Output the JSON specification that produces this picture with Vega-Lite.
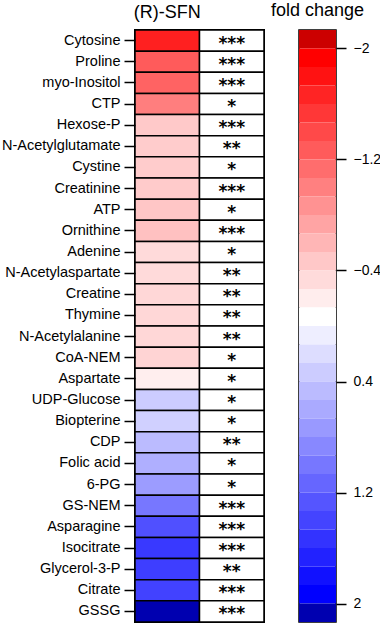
{
  "$schema": "https://vega.github.io/schema/vega-lite/v6.json",
  "padding": {"left": 0, "top": 0, "right": 0, "bottom": 0},
  "background": "white",
  "config": {
    "font": "Liberation Sans",
    "view": {"stroke": null},
    "axis": {"labelColor": "black", "tickColor": "black", "labelFont": "Liberation Sans"}
  },
  "datasets": {
    "metabolites": [
      {"metabolite": "Cytosine", "value": -1.75, "stars": "***"},
      {"metabolite": "Proline", "value": -1.29, "stars": "***"},
      {"metabolite": "myo-Inositol", "value": -1.22, "stars": "***"},
      {"metabolite": "CTP", "value": -1.01, "stars": "*"},
      {"metabolite": "Hexose-P", "value": -0.42, "stars": "***"},
      {"metabolite": "N-Acetylglutamate", "value": -0.40, "stars": "**"},
      {"metabolite": "Cystine", "value": -0.40, "stars": "*"},
      {"metabolite": "Creatinine", "value": -0.41, "stars": "***"},
      {"metabolite": "ATP", "value": -0.45, "stars": "*"},
      {"metabolite": "Ornithine", "value": -0.49, "stars": "***"},
      {"metabolite": "Adenine", "value": -0.29, "stars": "*"},
      {"metabolite": "N-Acetylaspartate", "value": -0.29, "stars": "**"},
      {"metabolite": "Creatine", "value": -0.31, "stars": "**"},
      {"metabolite": "Thymine", "value": -0.31, "stars": "**"},
      {"metabolite": "N-Acetylalanine", "value": -0.31, "stars": "**"},
      {"metabolite": "CoA-NEM", "value": -0.34, "stars": "*"},
      {"metabolite": "Aspartate", "value": -0.13, "stars": "*"},
      {"metabolite": "UDP-Glucose", "value": 0.40, "stars": "*"},
      {"metabolite": "Biopterine", "value": 0.37, "stars": "*"},
      {"metabolite": "CDP", "value": 0.53, "stars": "**"},
      {"metabolite": "Folic acid", "value": 0.63, "stars": "*"},
      {"metabolite": "6-PG", "value": 0.78, "stars": "*"},
      {"metabolite": "GS-NEM", "value": 1.07, "stars": "***"},
      {"metabolite": "Asparagine", "value": 1.37, "stars": "***"},
      {"metabolite": "Isocitrate", "value": 1.55, "stars": "***"},
      {"metabolite": "Glycerol-3-P", "value": 1.51, "stars": "**"},
      {"metabolite": "Citrate", "value": 1.48, "stars": "***"},
      {"metabolite": "GSSG", "value": 2.2, "stars": "***"}
    ],
    "colorbar": [
      {"lo": -2.1333, "hi": -2.0, "c": -2.2},
      {"lo": -2.0, "hi": -1.8667, "c": -2.0},
      {"lo": -1.8667, "hi": -1.7333, "c": -1.8571},
      {"lo": -1.7333, "hi": -1.6, "c": -1.7143},
      {"lo": -1.6, "hi": -1.4667, "c": -1.5714},
      {"lo": -1.4667, "hi": -1.3333, "c": -1.4286},
      {"lo": -1.3333, "hi": -1.2, "c": -1.2857},
      {"lo": -1.2, "hi": -1.0667, "c": -1.1429},
      {"lo": -1.0667, "hi": -0.9333, "c": -1.0},
      {"lo": -0.9333, "hi": -0.8, "c": -0.8571},
      {"lo": -0.8, "hi": -0.6667, "c": -0.7143},
      {"lo": -0.6667, "hi": -0.5333, "c": -0.5714},
      {"lo": -0.5333, "hi": -0.4, "c": -0.4286},
      {"lo": -0.4, "hi": -0.2667, "c": -0.2857},
      {"lo": -0.2667, "hi": -0.1333, "c": -0.1429},
      {"lo": -0.1333, "hi": 0.0, "c": 0.0},
      {"lo": 0.0, "hi": 0.1333, "c": 0.1333},
      {"lo": 0.1333, "hi": 0.2667, "c": 0.2667},
      {"lo": 0.2667, "hi": 0.4, "c": 0.4},
      {"lo": 0.4, "hi": 0.5333, "c": 0.5333},
      {"lo": 0.5333, "hi": 0.6667, "c": 0.6667},
      {"lo": 0.6667, "hi": 0.8, "c": 0.8},
      {"lo": 0.8, "hi": 0.9333, "c": 0.9333},
      {"lo": 0.9333, "hi": 1.0667, "c": 1.0667},
      {"lo": 1.0667, "hi": 1.2, "c": 1.2},
      {"lo": 1.2, "hi": 1.3333, "c": 1.3333},
      {"lo": 1.3333, "hi": 1.4667, "c": 1.4667},
      {"lo": 1.4667, "hi": 1.6, "c": 1.6},
      {"lo": 1.6, "hi": 1.7333, "c": 1.7333},
      {"lo": 1.7333, "hi": 1.8667, "c": 1.8667},
      {"lo": 1.8667, "hi": 2.0, "c": 2.0},
      {"lo": 2.0, "hi": 2.1333, "c": 2.2}
    ]
  },
  "spacing": 35,
  "bounds": "flush",
  "hconcat": [
    {
      "width": 129,
      "height": 592,
      "data": {"name": "metabolites"},
      "view": {"stroke": "black", "strokeWidth": 2},
      "encoding": {
        "y": {
          "field": "metabolite", "type": "nominal", "sort": null,
          "scale": {"paddingInner": 0, "paddingOuter": 0},
          "axis": {"title": null, "labelFontSize": 14.5, "tickSize": 11, "tickWidth": 1.5, "labelPadding": 4, "domain": false}
        }
      },
      "layer": [
        {
          "mark": {"type": "rect", "stroke": "black", "strokeWidth": 1.5},
          "encoding": {
            "x": {
              "datum": "(R)-SFN", "type": "nominal",
              "scale": {"domain": ["(R)-SFN", "sig"], "paddingInner": 0, "paddingOuter": 0},
              "axis": {"orient": "top", "title": null, "ticks": false, "domain": false, "labelAngle": 0, "labelFontSize": 18, "labelPadding": 9, "labelExpr": "datum.label == 'sig' ? '' : datum.label"}
            },
            "color": {
              "field": "value", "type": "quantitative", "legend": null,
              "scale": {"domain": [-2.2, -2, 0, 2, 2.2], "range": ["#cc0000", "#ff0000", "#ffffff", "#0000ff", "#0000b0"], "interpolate": "rgb"}
            }
          }
        },
        {
          "mark": {"type": "rect", "fill": "white", "stroke": "black", "strokeWidth": 1.5},
          "encoding": {"x": {"datum": "sig", "type": "nominal"}}
        },
        {
          "mark": {"type": "text", "font": "DejaVu Sans", "fontWeight": "bold", "fontSize": 17, "baseline": "middle", "dy": 3, "color": "black"},
          "encoding": {"x": {"datum": "sig", "type": "nominal"}, "text": {"field": "stars"}}
        }
      ]
    },
    {
      "width": 37,
      "height": 592,
      "data": {"name": "colorbar"},
      "view": {"stroke": "black", "strokeWidth": 1.5},
      "mark": {"type": "rect"},
      "encoding": {
        "x": {
          "datum": "fold change", "type": "nominal",
          "scale": {"paddingInner": 0, "paddingOuter": 0},
          "axis": {"orient": "top", "title": null, "ticks": false, "domain": false, "labelAngle": 0, "labelFontSize": 18, "labelPadding": 11}
        },
        "y": {
          "field": "lo", "type": "quantitative",
          "scale": {"domain": [-2.1333, 2.1333], "reverse": true, "nice": false, "zero": false},
          "axis": {"orient": "right", "values": [-2, -1.2, -0.4, 0.4, 1.2, 2], "format": ".1~f", "title": null, "grid": false, "domain": false, "tickSize": 10, "tickWidth": 1.5, "labelPadding": 7, "labelFontSize": 14}
        },
        "y2": {"field": "hi"},
        "color": {
          "field": "c", "type": "quantitative", "legend": null,
          "scale": {"domain": [-2.2, -2, 0, 2, 2.2], "range": ["#cc0000", "#ff0000", "#ffffff", "#0000ff", "#0000b0"], "interpolate": "rgb"}
        }
      }
    }
  ]
}
